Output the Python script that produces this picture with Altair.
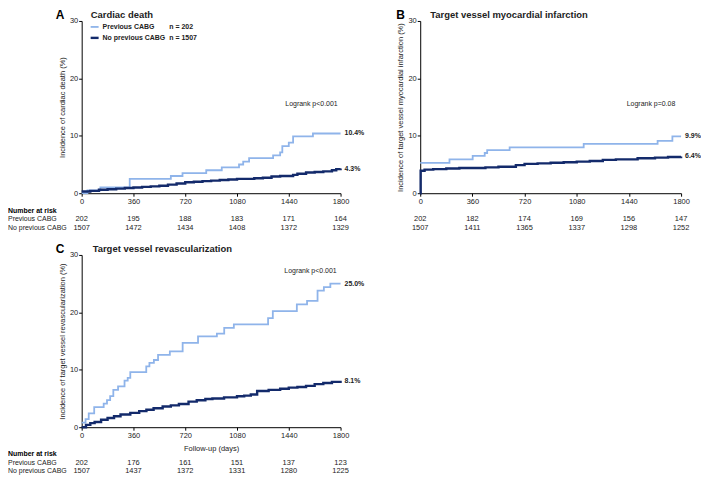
import altair as alt
import pandas as pd

LIGHT = "#8fb4ea"
DARK = "#132a6b"
TXT = "#222222"

ticks_x = [0, 360, 720, 1080, 1440, 1800]
ticks_y = [0, 5, 10, 15, 20, 25, 30]

series_names = ["Previous CABG", "No previous CABG"]
legend_n = ["n =  202", "n = 1507"]

# Panel A: cardiac death
a_prev_days = [0, 40, 130, 334, 620, 701, 866, 974, 1094, 1123, 1164, 1331, 1380, 1395, 1440, 1470, 1608, 1800]
a_prev_vals = [0.0, 0.5, 1.0, 2.5, 3.0, 3.5, 4.0, 4.5, 5.0, 5.5, 6.1, 6.6, 7.1, 8.2, 8.8, 9.9, 10.4, 10.4]
a_nop_days = [0, 60, 120, 180, 240, 300, 360, 420, 480, 540, 600, 660, 720, 780, 840, 900, 960, 1020, 1080,
              1140, 1200, 1260, 1320, 1380, 1440, 1470, 1500, 1560, 1620, 1680, 1740, 1770, 1800]
a_nop_vals = [0.3, 0.4, 0.6, 0.7, 0.8, 0.9, 1.0, 1.1, 1.2, 1.3, 1.5, 1.7, 1.9, 2.0, 2.1, 2.2, 2.3, 2.4, 2.5,
              2.5, 2.6, 2.7, 2.9, 3.0, 3.0, 3.2, 3.4, 3.6, 3.7, 3.8, 4.0, 4.2, 4.3]

# Panel B: target vessel MI
b_prev_days = [0, 202, 362, 445, 462, 617, 1128, 1638, 1740, 1800]
b_prev_vals = [5.3, 5.9, 6.5, 7.0, 7.5, 8.0, 8.6, 9.1, 9.9, 9.9]
b_nop_days = [0, 3, 30, 90, 180, 270, 360, 400, 450, 540, 600, 660, 720, 810, 900, 990, 1080, 1170, 1260,
              1350, 1440, 1500, 1560, 1620, 1710, 1800]
b_nop_vals = [0.0, 3.9, 4.1, 4.2, 4.3, 4.4, 4.4, 4.4, 4.5, 4.6, 4.6, 4.9, 5.1, 5.2, 5.3, 5.4, 5.5, 5.6, 5.8,
              5.9, 5.9, 6.1, 6.1, 6.2, 6.3, 6.4]

# Panel C: target vessel revascularization
c_prev_days = [0, 27, 49, 87, 153, 176, 198, 220, 253, 298, 320, 338, 449, 471, 502, 531, 613, 702, 809,
               940, 991, 1058, 1296, 1329, 1496, 1567, 1640, 1684, 1729, 1800]
c_prev_vals = [0.8, 1.4, 2.4, 3.5, 4.1, 4.7, 5.4, 6.5, 7.1, 8.1, 8.6, 9.6, 10.6, 11.2, 11.7, 12.6, 13.2, 14.7,
               15.8, 16.3, 17.3, 17.9, 19.0, 20.2, 21.4, 22.0, 23.8, 24.4, 25.0, 25.0]
c_nop_days = [0, 30, 60, 90, 135, 180, 225, 270, 338, 400, 450, 500, 563, 620, 676, 743, 800, 860, 909,
              990, 1080, 1130, 1176, 1220, 1300, 1380, 1440, 1500, 1560, 1620, 1680, 1740, 1800]
c_nop_vals = [0.0, 0.4, 0.7, 0.9, 1.3, 1.6, 1.9, 2.2, 2.5, 2.8, 3.05, 3.3, 3.6, 3.8, 4.05, 4.45, 4.7, 4.9, 5.0,
              5.2, 5.4, 5.5, 5.7, 6.3, 6.5, 6.7, 6.9, 7.0, 7.2, 7.5, 7.7, 7.9, 8.1]

risk_a_prev = [202, 195, 188, 183, 171, 164]
risk_a_nop = [1507, 1472, 1434, 1408, 1372, 1329]
risk_b_prev = [202, 182, 174, 169, 156, 147]
risk_b_nop = [1507, 1411, 1365, 1337, 1298, 1252]
risk_c_prev = [202, 176, 161, 151, 137, 123]
risk_c_nop = [1507, 1437, 1372, 1331, 1280, 1225]

end_a = ["10.4%", "4.3%"]
end_b = ["9.9%", "6.4%"]
end_c = ["25.0%", "8.1%"]

titles = ["Cardiac death", "Target vessel myocardial infarction", "Target vessel revascularization"]
letters = ["A", "B", "C"]
ytitles = ["Incidence of cardiac death (%)",
           "Incidence of target vessel myocardial infarction (%)",
           "Incidence of target vessel revascularization (%)"]
logranks = ["Logrank p<0.001", "Logrank p=0.08", "Logrank p<0.001"]
risk_labels = ["Number at risk", "Previous CABG", "No previous CABG"]


def panel(prev_d, prev_v, nop_d, nop_v, ends, risk_prev, risk_nop, idx, w, h,
          lr_pos, title_dx, letter_dx, legend=False, row_labels=False, xtitle=None, risk_off=(18, 26, 35)):
    dprev = pd.DataFrame({"day": prev_d, "pct": prev_v})
    dnop = pd.DataFrame({"day": nop_d, "pct": nop_v})
    xenc = alt.X("day:Q", scale=alt.Scale(domain=[0, 1800], nice=False, zero=False),
                 axis=alt.Axis(values=ticks_x, format="d", labelFontSize=7.5, tickSize=3, labelPadding=1,
                               domainColor="black", tickColor="black", labelColor=TXT, grid=False,
                               titleFontSize=7.5, titleFontWeight="normal", titleColor=TXT,
                               titlePadding=6, labelFlush=False),
                 title=xtitle)
    yenc = alt.Y("pct:Q", scale=alt.Scale(domain=[0, 30], nice=False),
                 axis=alt.Axis(values=ticks_y, labelFontSize=7.5, tickSize=3, labelPadding=1,
                               domainColor="black", tickColor="black", labelColor=TXT, grid=False,
                               titleFontSize=7.5, titleFontWeight="normal", titleColor=TXT,
                               titlePadding=3),
                 title=ytitles[idx])
    l1 = alt.Chart(dprev).mark_line(interpolate="step-after", color=LIGHT, strokeWidth=1.8).encode(x=xenc, y=yenc)
    l2 = alt.Chart(dnop).mark_line(interpolate="step-after", color=DARK, strokeWidth=2.4).encode(x="day:Q", y="pct:Q")
    dend = pd.DataFrame({"day": [prev_d[-1], nop_d[-1]], "pct": [prev_v[-1], nop_v[-1]], "lab": ends})
    t_end = alt.Chart(dend).mark_text(align="left", dx=4, fontSize=7, fontWeight="bold", color=TXT).encode(
        x="day:Q", y="pct:Q", text="lab:N")
    dlr = pd.DataFrame({"day": [lr_pos[0]], "pct": [lr_pos[1]], "lab": [logranks[idx]]})
    t_lr = alt.Chart(dlr).mark_text(align="right", fontSize=7, color=TXT).encode(
        x="day:Q", y="pct:Q", text="lab:N")
    t_title = alt.Chart(dlr).mark_text(align="left", fontSize=9.5, fontWeight="bold", color=TXT,
                                       text=titles[idx]).encode(x=alt.value(title_dx), y=alt.value(-6))
    t_letter = alt.Chart(dlr).mark_text(align="left", fontSize=12, fontWeight="bold", color="black",
                                        text=letters[idx]).encode(x=alt.value(letter_dx), y=alt.value(-6))
    drp = pd.DataFrame({"day": ticks_x, "n": risk_prev})
    drn = pd.DataFrame({"day": ticks_x, "n": risk_nop})
    r1 = alt.Chart(drp).mark_text(fontSize=7.5, color=TXT).encode(x="day:Q", y=alt.value(h + risk_off[1]), text="n:N")
    r2 = alt.Chart(drn).mark_text(fontSize=7.5, color=TXT).encode(x="day:Q", y=alt.value(h + risk_off[2]), text="n:N")
    layers = [l1, l2, t_end, t_lr, t_title, t_letter, r1, r2]
    if row_labels:
        for k, lab in enumerate(risk_labels):
            layers.append(alt.Chart(dlr).mark_text(align="left", fontSize=7, color="black" if k == 0 else TXT,
                                                   fontWeight="bold" if k == 0 else "normal", text=lab)
                          .encode(x=alt.value(-74), y=alt.value(h + risk_off[k])))
    if legend:
        for k, (nm, nn, col, sw) in enumerate(zip(series_names, legend_n, [LIGHT, DARK], [1.8, 2.4])):
            yy = 6 + 11 * k
            layers.append(alt.Chart(dlr).mark_rule(color=col, strokeWidth=sw).encode(
                x=alt.value(9), x2=alt.value(17), y=alt.value(yy)))
            layers.append(alt.Chart(dlr).mark_text(align="left", fontSize=7, fontWeight="bold", color=TXT,
                                                   text=nm).encode(x=alt.value(21), y=alt.value(yy)))
            layers.append(alt.Chart(dlr).mark_text(align="left", fontSize=7, fontWeight="bold", color=TXT,
                                                   text=nn).encode(x=alt.value(88), y=alt.value(yy)))
    return alt.layer(*layers).properties(width=w, height=h)


H = 173
pa = panel(a_prev_days, a_prev_vals, a_nop_days, a_nop_vals, end_a, risk_a_prev, risk_a_nop, 0, 260, H,
           (1780, 15.5), 9, -26, legend=True, row_labels=True)
pb = panel(b_prev_days, b_prev_vals, b_nop_days, b_nop_vals, end_b, risk_b_prev, risk_b_nop, 1, 262, H,
           (1760, 15.5), 10, -24)
pc = panel(c_prev_days, c_prev_vals, c_nop_days, c_nop_vals, end_c, risk_c_prev, risk_c_nop, 2, 260, H,
           (1773, 27.2), 11, -26, row_labels=True, xtitle="Follow-up (days)", risk_off=(27, 36, 44))

chart = alt.concat(pa, pb, pc, columns=2, spacing={"row": 62, "column": 80}, bounds="flush").properties(
    padding=0).configure(font="Liberation Sans").configure_view(stroke=None)

chart.save("out.html", embed_options={"renderer": "svg", "actions": False})
